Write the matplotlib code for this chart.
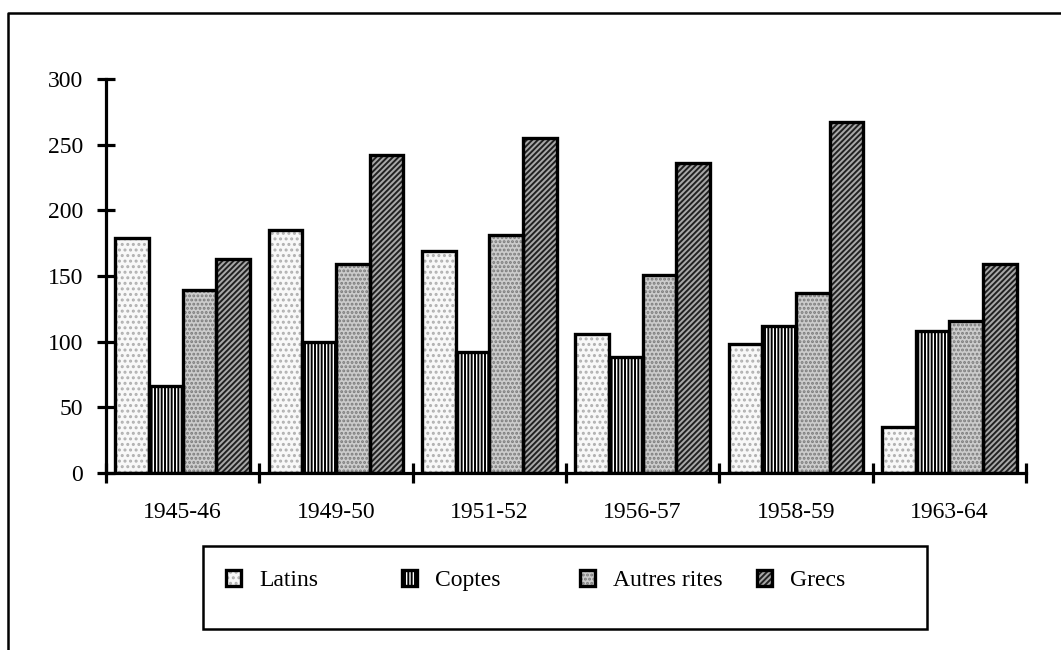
import numpy as np
import matplotlib

matplotlib.use("Agg")
import matplotlib.pyplot as plt  # noqa: E402
from matplotlib.lines import Line2D  # noqa: E402
from matplotlib.patches import Rectangle  # noqa: E402

# values
periods = ["1945-46", "1949-50", "1951-52", "1956-57", "1958-59", "1963-64"]
latins = [179, 185, 169, 106, 98, 35]
coptes = [66, 100, 92, 88, 112, 108]
autres_rites = [139, 159, 181, 151, 137, 116]
grecs = [163, 242, 255, 236, 267, 159]

series_names = ["Latins", "Coptes", "Autres rites", "Grecs"]
series_values = [latins, coptes, autres_rites, grecs]

# (face colour, hatch, hatch colour) to imitate the old bitmap fills
styles = [
    ("#f8f8f8", "...", "#b0b0b0"),
    ("white", "|||||", "black"),
    ("#cccccc", "....", "#7a7a7a"),
    ("#a8a8a8", "//////", "#202020"),
]

plt.rcParams["font.family"] = ["Liberation Serif", "DejaVu Serif"]
plt.rcParams["font.size"] = 17
plt.rcParams["hatch.linewidth"] = 1.4

W, H = 1061, 650
fig = plt.figure(figsize=(W / 100, H / 100), dpi=100)
ax = fig.add_axes([106 / W, 1 - 473 / H, (1026 - 106) / W, (473 - 79) / H])

x = np.arange(len(periods))
bar_w = 0.22
handles = []
for i, (name, vals) in enumerate(zip(series_names, series_values)):
    face, hatch, hcol = styles[i]
    pos = x + (i - 1.5) * bar_w
    fill = ax.bar(pos, vals, bar_w, color=face, edgecolor=hcol, hatch=hatch,
                  linewidth=0, zorder=2)
    outline = ax.bar(pos, vals, bar_w, fill=False, edgecolor="black",
                     linewidth=2.4, zorder=3)
    handles.append((fill[0], outline[0]))

ax.set_xlim(-0.5, len(periods) - 0.5)
ax.set_ylim(0, 300)
ax.set_yticks(np.arange(0, 301, 50))
ax.set_xticks(x)
ax.set_xticklabels(periods)
ax.set_xticks(np.arange(-0.5, len(periods), 1.0), minor=True)

for side in ["top", "right"]:
    ax.spines[side].set_visible(False)
for side in ["left", "bottom"]:
    ax.spines[side].set_linewidth(2.3)

ax.tick_params(axis="y", direction="inout", length=13, width=2.3, pad=10)
ax.tick_params(axis="x", which="major", length=0, pad=21)
ax.tick_params(axis="x", which="minor", direction="inout", length=14, width=2.3)

# legend: boxed strip with four evenly spaced entries
fig.add_artist(Rectangle((203 / W, 1 - 629 / H), (927 - 203) / W, (629 - 546) / H,
                         transform=fig.transFigure, fill=False,
                         edgecolor="black", linewidth=1.8))
entry_x = [226, 402, 580, 757]
for handle, name, ex in zip(handles, series_names, entry_x):
    fig.legend([handle], [name], loc="upper left",
               bbox_to_anchor=(ex / W, 1 - 570 / H), frameon=False,
               borderpad=0, borderaxespad=0, handlelength=0.65,
               handleheight=0.65, handletextpad=0.75)

# outer frame (left and top edges visible)
fig.add_artist(Line2D([8 / W, 8 / W, 1], [0, 1 - 13 / H, 1 - 13 / H],
                      transform=fig.transFigure, color="black", linewidth=1.8))

fig.savefig("out.png", dpi=100)
